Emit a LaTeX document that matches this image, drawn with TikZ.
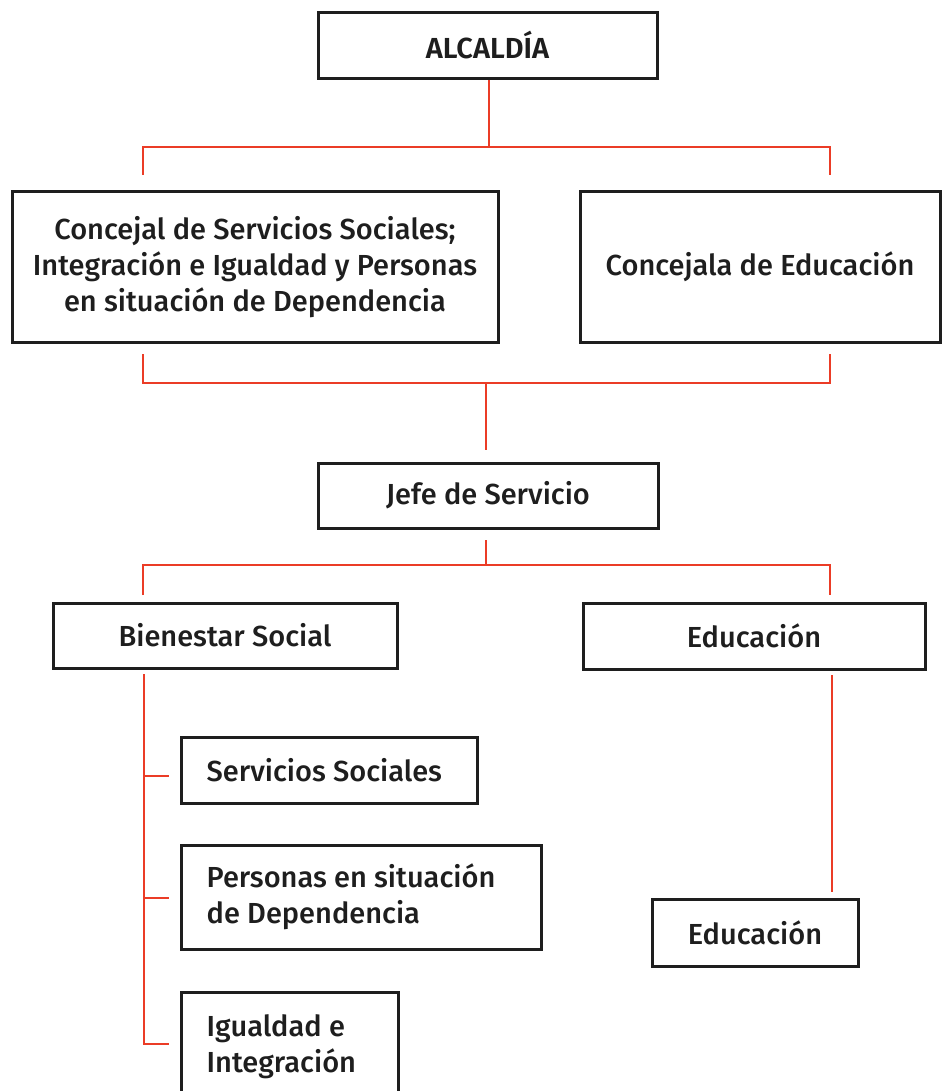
\documentclass[tikz,border=0pt]{standalone}
\usepackage{fontspec}
\setmainfont{Fira Sans}
\newfontfamily\medf{Fira Sans Medium}
\newfontfamily\semf{Fira Sans SemiBold}
\definecolor{ored}{RGB}{235,60,38}
\definecolor{bord}{RGB}{30,30,30}
\begin{document}
\begin{tikzpicture}[x=1pt,y=-1pt,
  box/.style={draw=bord, line width=3pt, inner sep=0pt, fill=white},
  link/.style={draw=ored, line width=2.6pt},
  txt/.style={font=\medf\fontsize{29}{36}\selectfont, text=bord, inner sep=0pt},
  reg/.style={font=\medf\fontsize{29}{36}\selectfont, text=bord, align=center}]
\useasboundingbox (0,0) rectangle (943,1091);
\clip (0,0) rectangle (943,1091);
% boxes
\node[box, minimum width=339pt, minimum height=66pt, font=\semf\fontsize{29}{36}\selectfont, text=bord] (alc) at (487.5,45.5) {ALCALDÍA};
\node[box, minimum width=486pt, minimum height=150pt, reg] (conc1) at (255,267) {Concejal de Servicios Sociales;\\Integración e Igualdad y Personas\\en situación de Dependencia};
\node[box, minimum width=360pt, minimum height=150pt, reg] (conc2) at (760,267) {Concejala de Educación};
\node[box, minimum width=340pt, minimum height=65pt, txt] (jefe) at (488,495.5) {Jefe de Servicio};
\node[box, minimum width=344pt, minimum height=65pt, txt] (bien) at (225,635.5) {Bienestar Social};
\node[box, minimum width=342pt, minimum height=66pt, txt] (edu) at (754,636) {Educación};
\node[box, minimum width=206pt, minimum height=67pt, txt] (edu2) at (755,932.5) {Educación};
\node[box, minimum width=296pt, minimum height=66pt] (serv) at (329,770) {};
\node[box, minimum width=360pt, minimum height=104pt] (pers) at (361,897) {};
\node[box, minimum width=217pt, minimum height=110pt] (igu) at (289.5,1047) {};
\node[txt, anchor=west, align=left] (servT) at ([xshift=27pt]serv.west) {Servicios Sociales};
\node[txt, anchor=west, align=left] (persT) at ([xshift=27pt]pers.west) {Personas en situación\\de Dependencia};
\node[txt, anchor=west, align=left] (iguT) at ([xshift=27pt]igu.west) {Igualdad e\\Integración};
% connector coordinates
\coordinate (t1) at (489,147);
\coordinate (t1l) at (143,147);
\coordinate (t1r) at (830,147);
\coordinate (t1le) at (143,175);
\coordinate (t1re) at (830,175);
\coordinate (b1ls) at (143,354);
\coordinate (b1rs) at (830,354);
\coordinate (b1l) at (143,383);
\coordinate (b1r) at (830,383);
\coordinate (b1m) at (486,383);
\coordinate (j1) at (486,450);
\coordinate (j2s) at (486,540);
\coordinate (j2) at (486,565);
\coordinate (j2l) at (143,565);
\coordinate (j2r) at (830,565);
\coordinate (j2le) at (143,595);
\coordinate (j2re) at (830,595);
\coordinate (bv0) at (144,674);
\coordinate (bv1) at (144,776);
\coordinate (bv2) at (144,898);
\coordinate (bv3) at (144,1044);
\coordinate (bh1) at (169,776);
\coordinate (bh2) at (169,898);
\coordinate (bh3) at (169,1044);
\coordinate (ev0) at (832,675);
\coordinate (ev1) at (832,892);
% connectors
\draw[link] (alc.south -| t1) -- (t1);
\draw[link] (t1le) -- (t1l) -- (t1r) -- (t1re);
\draw[link] (b1ls) -- (b1l) -- (b1r) -- (b1rs);
\draw[link] (b1m) -- (j1);
\draw[link] (j2s) -- (j2);
\draw[link] (j2le) -- (j2l) -- (j2r) -- (j2re);
\draw[link] (bv0) -- (bv3) -- (bh3);
\draw[link] (bv1) -- (bh1);
\draw[link] (bv2) -- (bh2);
\draw[link] (ev0) -- (ev1);
\end{tikzpicture}
\end{document}
